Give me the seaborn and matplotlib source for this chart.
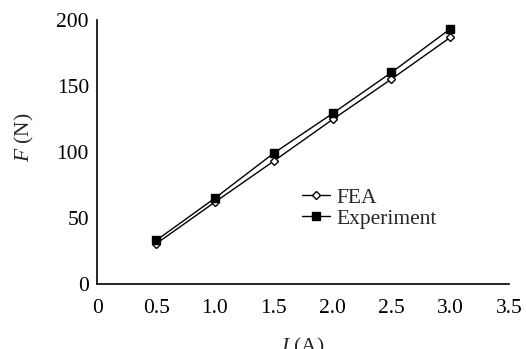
import matplotlib
matplotlib.use("Agg")
import matplotlib.pyplot as plt
import seaborn as sns
import pandas as pd
from matplotlib.lines import Line2D

current = [0.5, 1.0, 1.5, 2.0, 2.5, 3.0]
fea = [30.5, 62, 93, 124.5, 155, 186.5]
experiment = [33, 65, 99, 129, 160, 193]
xticks = [0, 0.5, 1.0, 1.5, 2.0, 2.5, 3.0, 3.5]
xtick_labels = ["0", "0.5", "1.0", "1.5", "2.0", "2.5", "3.0", "3.5"]
yticks = [0, 50, 100, 150, 200]

sns.set_theme(style="white")
plt.rcParams['font.family'] = ['Liberation Serif', 'DejaVu Serif']
plt.rcParams['mathtext.fontset'] = 'custom'
plt.rcParams['mathtext.it'] = 'Liberation Serif:italic'
plt.rcParams['mathtext.rm'] = 'Liberation Serif'

df = pd.DataFrame({
    "I": current * 2,
    "F": fea + experiment,
    "series": ["FEA"] * len(current) + ["Experiment"] * len(current),
})

fig = plt.figure(figsize=(5.26, 3.49), dpi=100)
ax = fig.add_axes([0.185, 0.186, 0.783, 0.758])

sns.lineplot(data=df, x="I", y="F", hue="series", style="series",
             markers={"FEA": "D", "Experiment": "s"}, dashes=False,
             palette={"FEA": "black", "Experiment": "black"},
             linewidth=1.0, ax=ax, legend=False)
for line, face, ms in zip(ax.lines, ["white", "black"], [4.5, 5.5]):
    line.set_markerfacecolor(face)
    line.set_markeredgecolor("black")
    line.set_markersize(ms)
    line.set_markeredgewidth(1.0)

handles = [
    Line2D([], [], color="black", lw=1.0, marker="D", ms=4.5, mfc="white", mec="black"),
    Line2D([], [], color="black", lw=1.0, marker="s", ms=5.5, mfc="black", mec="black"),
]
ax.legend(handles, ["FEA", "Experiment"], frameon=False, fontsize=15.5,
          loc="center left", bbox_to_anchor=(0.475, 0.287), handlelength=1.3,
          handletextpad=0.3, labelspacing=0.05, borderaxespad=0)

ax.set_xlim(0, 3.5)
ax.set_ylim(0, 200)
ax.set_xticks(xticks)
ax.set_xticklabels(xtick_labels)
ax.set_yticks(yticks)
ax.tick_params(axis="both", direction="in", length=4, width=1, labelsize=15.5,
               colors="black", pad=11)
ax.tick_params(axis="y", pad=6)
for s in ["top", "right"]:
    ax.spines[s].set_visible(False)
for s in ["left", "bottom"]:
    ax.spines[s].set_color("black")
    ax.spines[s].set_linewidth(1.2)

ax.set_xlabel(r"$I$ (A)", fontsize=15.5, labelpad=13)
ax.set_ylabel(r"$F$ (N)", fontsize=15.5)
ax.yaxis.set_label_coords(-0.148, 0.555)

fig.savefig("out.png", dpi=100, facecolor="white")
